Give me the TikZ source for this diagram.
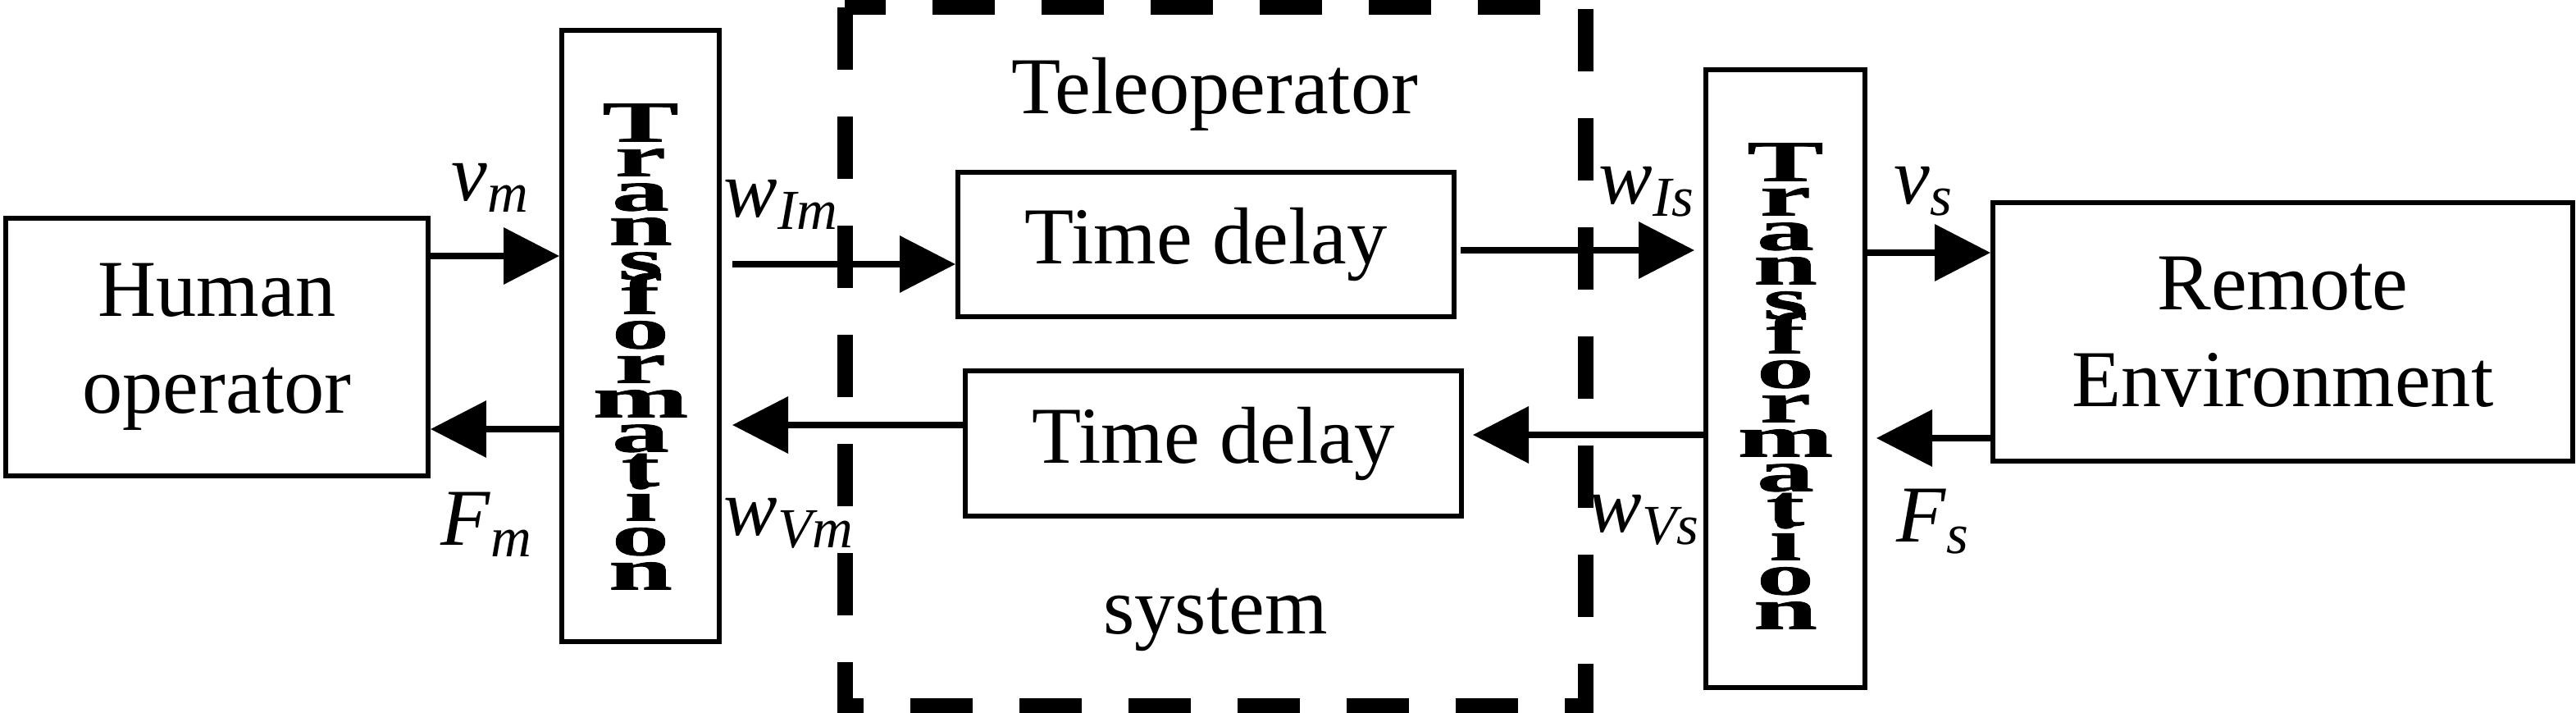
\documentclass[tikz,border=0pt]{standalone}
\usepackage{fontspec}
\setmainfont{Liberation Serif}
\newfontfamily\tletterfont[FakeStretch=2,FakeBold=1.2]{Liberation Serif Bold}
\usetikzlibrary{arrows.meta}
\newcommand{\sig}[2]{\textit{#1}\textsubscript{\textit{#2}}}
\newcommand{\tightstack}{\tletterfont\fontsize{20}{11.95}\selectfont\setlength{\lineskiplimit}{-30pt}\setlength{\lineskip}{0pt}}

\begin{document}
\begin{tikzpicture}[x=1cm,y=1cm,
  font=\fontsize{28}{33.5}\selectfont,
  block/.style={draw,line width=1.7pt,align=center,inner sep=0pt},
  tstack/.style={align=center,inner sep=0pt,font=\tightstack},
  sig/.style={line width=2pt,-{Triangle[length=0.68cm,width=0.68cm]}},
  lab/.style={anchor=base,inner sep=0pt}]
  \useasboundingbox (0,0) rectangle (31.41,8.69);
  % teleoperator frame
  \draw[line width=5.4pt,dash pattern=on 0.76cm off 0.57cm] (10.30,8.60) -- (10.30,0.09) -- (19.33,0.09) -- (19.33,8.60) -- cycle;
  \node[anchor=base] (tele) at (14.81,7.30) {Teleoperator};
  \node[anchor=base] (sys) at (14.82,0.96) {system};
  % blocks
  \node[block,minimum width=5.15cm,minimum height=3.14cm] (human) at (2.645,4.46) {Human\\operator};
  \node[block,minimum width=1.92cm,minimum height=7.45cm] (trL) at (7.81,4.595) {};
  \node[block,minimum width=6.05cm,minimum height=1.76cm] (delayTop) at (14.705,5.71) {Time delay};
  \node[block,minimum width=6.05cm,minimum height=1.77cm] (delayBot) at (14.795,3.285) {Time delay};
  \node[block,minimum width=1.94cm,minimum height=7.53cm] (trR) at (21.77,4.075) {};
  \node[block,minimum width=7.07cm,minimum height=3.15cm] (remote) at (27.835,4.645) {Remote\\Environment};
  % stacked letters
  \node[tstack] (trLtext) at (7.81,4.465) {T\\r\\a\\n\\s\\f\\o\\r\\m\\a\\t\\i\\o\\n};
  \node[tstack] (trRtext) at (21.77,3.985) {T\\r\\a\\n\\s\\f\\o\\r\\m\\a\\t\\i\\o\\n};
  % signals
  \draw[sig] (human.east |- 0,5.57) -- (trL.west |- 0,5.57);
  \draw[sig] (trL.west |- 0,3.46) -- (human.east |- 0,3.46);
  \draw[sig,shorten <=0.13cm] (trL.east |- 0,5.47) -- (delayTop.west |- 0,5.47);
  \draw[sig,shorten >=0.13cm] (delayBot.west |- 0,3.51) -- (trL.east |- 0,3.51);
  \draw[sig,shorten <=0.05cm,shorten >=0.11cm] (delayTop.east |- 0,5.64) -- (trR.west |- 0,5.64);
  \draw[sig,shorten >=0.11cm] (trR.west |- 0,3.39) -- (delayBot.east |- 0,3.39);
  \draw[sig] (trR.east |- 0,5.61) -- (remote.west |- 0,5.61);
  \draw[sig,shorten >=0.11cm] (remote.west |- 0,3.35) -- (trR.east |- 0,3.35);
  % labels
  \node[lab] (lvm) at (5.98,6.24) {\sig{v}{m}};
  \node[lab] (lFm) at (5.94,2.04) {\sig{F}{m}};
  \node[lab] (lwIm) at (9.53,6.04) {\sig{w}{Im}};
  \node[lab] (lwVm) at (9.62,2.16) {\sig{w}{Vm}};
  \node[lab] (lwIs) at (20.08,6.20) {\sig{w}{Is}};
  \node[lab] (lwVs) at (20.05,2.20) {\sig{w}{Vs}};
  \node[lab] (lvs) at (23.46,6.20) {\sig{v}{s}};
  \node[lab] (lFs) at (23.57,2.08) {\sig{F}{s}};
\end{tikzpicture}
\end{document}
